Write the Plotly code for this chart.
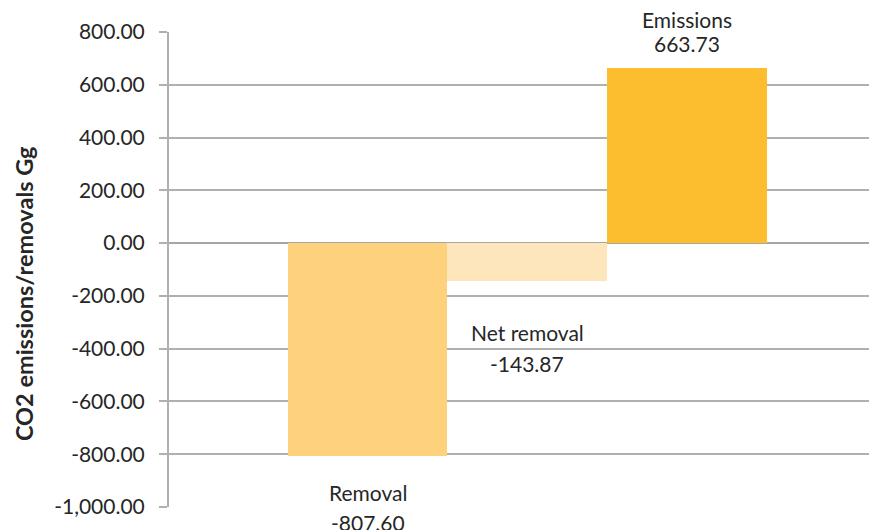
import plotly.graph_objects as go

categories = ["Removal", "Net removal", "Emissions"]
values = [-807.60, -143.87, 663.73]
value_labels = ["-807.60", "-143.87", "663.73"]
bar_colors = ["#FED17C", "#FEE6BC", "#FCBE2E"]
tick_values = [-1000, -800, -600, -400, -200, 0, 200, 400, 600, 800]
tick_labels = ["-1,000.00", "-800.00", "-600.00", "-400.00", "-200.00",
               "0.00", "200.00", "400.00", "600.00", "800.00"]
# pixel offsets (from bar end) of the category line and value line
cat_shift = [-36, -51, 48]
val_shift = [-66, -82, 24]

FONT = "Lato"
TXT = "#262626"

x_pos = list(range(len(categories)))

fig = go.Figure()
fig.add_trace(go.Bar(
    x=x_pos, y=values, width=1.0,
    marker=dict(color=bar_colors, line=dict(width=0)),
    hoverinfo="skip", showlegend=False,
))

for i, (c, v, vl) in enumerate(zip(categories, values, value_labels)):
    for txt, sh in ((c, cat_shift[i]), (vl, val_shift[i])):
        fig.add_annotation(
            x=x_pos[i], y=v, xref="x", yref="y",
            text=txt, showarrow=False,
            yanchor="middle", yshift=sh,
            font=dict(family=FONT, size=21, color=TXT),
            align="center",
        )

fig.add_annotation(
    text="<b>CO2 emissions/removals Gg</b>",
    xref="paper", yref="paper", x=-0.205, y=0.45,
    textangle=-90, showarrow=False,
    font=dict(family=FONT, size=23.5, color=TXT),
    xanchor="center", yanchor="middle",
)

fig.update_layout(
    width=869, height=522,
    margin=dict(l=161, r=0, t=24, b=23),
    paper_bgcolor="white", plot_bgcolor="white",
    bargap=0,
    xaxis=dict(range=[-1.245, 3.192], showticklabels=False, showgrid=False,
               zeroline=False, showline=False, fixedrange=True),
    yaxis=dict(range=[-1000, 800], tickvals=tick_values, ticktext=tick_labels,
               showgrid=True, gridcolor="#B0B0B0", gridwidth=1.5,
               zeroline=True, zerolinecolor="#A6A6A6", zerolinewidth=2,
               showline=True, linecolor="#B0B0B0", linewidth=2,
               ticks="outside", ticklen=8, tickcolor="#B0B0B0", tickwidth=1.5,
               ticklabelstandoff=10,
               tickfont=dict(family=FONT, size=21, color=TXT)),
)

fig.write_html("out.html")
